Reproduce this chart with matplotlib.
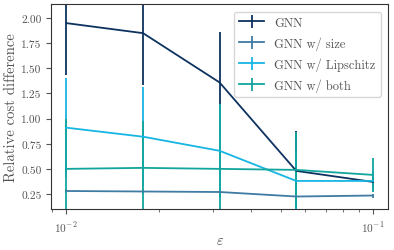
import numpy as np
import matplotlib
matplotlib.use('Agg')
import matplotlib.pyplot as plt

eps = [0.01, 0.0178, 0.0316, 0.0562, 0.1]

labels = ['GNN', 'GNN w/ size', 'GNN w/ Lipschitz', 'GNN w/ both']
colors = ['#0d325f', '#3f7ba3', '#17b5e3', '#12a59e']

gnn = [1.95, 1.85, 1.36, 0.48, 0.37]
gnn_err = [0.52, 0.52, 0.50, 0.40, 0.05]
size = [0.28, 0.275, 0.27, 0.225, 0.235]
size_err = [0.02, 0.02, 0.02, 0.02, 0.02]
lip = [0.91, 0.82, 0.68, 0.38, 0.38]
lip_err = [0.49, 0.49, 0.47, 0.30, 0.10]
both = [0.50, 0.51, 0.50, 0.49, 0.44]
both_err = [0.50, 0.47, 0.65, 0.38, 0.17]

plt.rcParams['font.family'] = 'serif'
plt.rcParams['font.serif'] = ['cmr10']
plt.rcParams['mathtext.fontset'] = 'cm'
plt.rcParams['axes.formatter.use_mathtext'] = True
plt.rcParams['axes.unicode_minus'] = False

fig, ax = plt.subplots(figsize=(3.94, 2.51), dpi=100)
fig.subplots_adjust(left=0.13, right=0.985, top=0.98, bottom=0.163)

for y, err, lab, col in zip([gnn, size, lip, both], [gnn_err, size_err, lip_err, both_err], labels, colors):
    ax.errorbar(eps, y, yerr=err, label=lab, color=col, lw=1.3)

ax.set_xscale('log')
ax.set_xlim(10 ** -2.049, 10 ** -0.951)
ax.set_ylim(0.10, 2.14)
ax.set_yticks([0.25, 0.5, 0.75, 1.0, 1.25, 1.5, 1.75, 2.0])
ax.set_yticklabels(['%.2f' % v for v in [0.25, 0.5, 0.75, 1.0, 1.25, 1.5, 1.75, 2.0]])
ax.set_xlabel(r'$\varepsilon$', color='#555555', fontsize=10.5, labelpad=0)
ax.set_ylabel('Relative cost difference', color='#555555', fontsize=10.6, labelpad=2)
ax.tick_params(colors='#555555', labelsize=8.2)
ax.tick_params(which='minor', colors='#555555')
for s in ax.spines.values():
    s.set_color('#333333')

leg = ax.legend(loc='upper right', fontsize=9, handlelength=2.0, labelspacing=0.6,
                labelcolor='#555555', borderaxespad=0.6)

fig.savefig('out.png', dpi=100)
